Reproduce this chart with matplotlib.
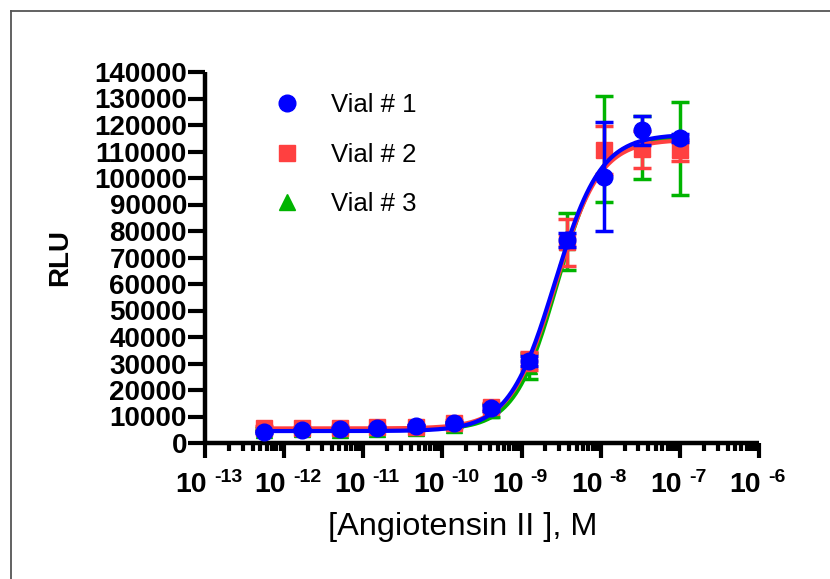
import numpy as np
import matplotlib
matplotlib.use("Agg")
import matplotlib.pyplot as plt
import matplotlib.transforms as mtransforms
from matplotlib.lines import Line2D
from matplotlib.ticker import FixedLocator, LogLocator, NullFormatter

plt.rcParams['font.family'] = ['Liberation Sans', 'DejaVu Sans']

# ---- data ----
conc = [5.6e-13, 1.7e-12, 5.1e-12, 1.5e-11, 4.6e-11, 1.4e-10,
        4.1e-10, 1.23e-9, 3.7e-9, 1.1e-8, 3.3e-8, 1.0e-7]

vial1_mean = [4150, 4900, 5300, 5700, 6400, 7600, 13200, 31000, 76600, 100500, 118000, 115000]
vial1_err = [300, 300, 300, 300, 300, 500, 1200, 2000, 2500, 20500, 5500, 1500]

vial2_mean = [5500, 5600, 5700, 5900, 6100, 7700, 13500, 31000, 75700, 110500, 110800, 110500]
vial2_err = [800, 600, 600, 600, 800, 900, 1500, 3300, 8800, 9000, 7000, 4000]

vial3_mean = [5000, 5200, 5000, 5300, 5600, 6800, 12400, 29000, 76000, 111000, 111500, 111000]
vial3_err = [500, 500, 600, 500, 600, 700, 2500, 5000, 10700, 20000, 12000, 17500]

# 4PL fit parameters: bottom, top, logEC50, hill
fit1 = [4500, 116500, -8.58, 1.50]
fit2 = [5500, 114500, -8.57, 1.55]
fit3 = [5000, 115500, -8.55, 1.62]

labels = ["Vial # 1", "Vial # 2", "Vial # 3"]
x_tick_vals = [1e-13, 1e-12, 1e-11, 1e-10, 1e-9, 1e-8, 1e-7, 1e-6]
x_tick_exps = ["-13", "-12", "-11", "-10", "-9", "-8", "-7", "-6"]
y_tick_vals = list(range(0, 140001, 10000))

blue = '#0000FF'
red = '#FF4040'
green = '#00B400'

def fourpl(x, p):
    b, t, lec, h = p
    return b + (t - b) / (1 + 10 ** ((lec - np.log10(x)) * h))

fig = plt.figure(figsize=(8.30, 5.79), dpi=100)
ax = fig.add_axes([205/830, 1 - 443/579, 554/830, 371/579])

xs = np.logspace(np.log10(conc[0]), np.log10(conc[-1]), 300)

series = [
    (vial3_mean, vial3_err, fit3, green, '^', 12),
    (vial2_mean, vial2_err, fit2, red, 's', 11),
    (vial1_mean, vial1_err, fit1, blue, 'o', 12),
]
for i, (m, e, p, c, mk, ms) in enumerate(series):
    ax.errorbar(conc, m, yerr=e, fmt=mk, color=c, ms=ms, mec=c, mfc=c,
                elinewidth=2.5, capsize=6.5, capthick=2.5, zorder=3 + i)
    ax.plot(xs, fourpl(xs, p), color=c, lw=3, zorder=3 + i, solid_capstyle='butt')

ax.set_xscale('log')
ax.set_xlim(1e-13, 1e-6)
ax.set_ylim(0, 140000)

for s in ['top', 'right']:
    ax.spines[s].set_visible(False)
for s in ['left', 'bottom']:
    ax.spines[s].set_linewidth(3.2)
    ax.spines[s].set_capstyle('butt')

ax.xaxis.set_major_locator(FixedLocator(x_tick_vals))
ax.xaxis.set_major_formatter(NullFormatter())
ax.xaxis.set_minor_locator(LogLocator(base=10, subs=np.arange(2, 10), numticks=100))
ax.xaxis.set_minor_formatter(NullFormatter())
ax.yaxis.set_major_locator(FixedLocator(y_tick_vals))
ax.set_yticklabels([str(v) for v in y_tick_vals], fontweight='bold')

ax.tick_params(axis='x', which='major', length=11, width=3)
ax.tick_params(axis='x', which='minor', length=6, width=3)
ax.tick_params(axis='y', which='major', length=12, width=3, labelsize=20, pad=1)

# x tick labels: "10" with superscript exponent (hyphen style as in reference)
xt = ax.get_xaxis_transform()
base_tr = mtransforms.offset_copy(xt, fig=fig, x=2, y=0, units='dots')
exp_tr = mtransforms.offset_copy(xt, fig=fig, x=9, y=0, units='dots')
for v, ex in zip(x_tick_vals, x_tick_exps):
    ax.text(v, -0.132, "10", transform=base_tr, ha='right', va='baseline',
            fontsize=20.5, fontweight='bold', clip_on=False)
    ax.text(v, -0.104, ex, transform=exp_tr, ha='left', va='baseline',
            fontsize=14, fontweight='bold', clip_on=False)

ax.set_ylabel('RLU', fontsize=20, fontweight='bold', labelpad=15)
ax.set_xlabel('[Angiotensin II ], M', fontsize=23.4)
ax.xaxis.set_label_coords(0.466, -0.187)

handles = [
    Line2D([], [], ls='none', marker='o', color=blue, ms=12),
    Line2D([], [], ls='none', marker='s', color=red, ms=11),
    Line2D([], [], ls='none', marker='^', color=green, ms=12),
]
fig.legend(handles, labels, loc='upper left', bbox_to_anchor=(274/830, 1 - 93/579),
           frameon=False, fontsize=18.5, handlelength=1.0, handletextpad=1.23,
           labelspacing=1.0, borderpad=0, borderaxespad=0)

# partial frame border (top and left)
fig.add_artist(Line2D([11/830, 1.0], [1 - 11/579, 1 - 11/579], transform=fig.transFigure,
                      color='#555555', lw=1.3))
fig.add_artist(Line2D([11/830, 11/830], [0, 1 - 11/579], transform=fig.transFigure,
                      color='#555555', lw=1.3))

fig.savefig('out.png', dpi=100)
